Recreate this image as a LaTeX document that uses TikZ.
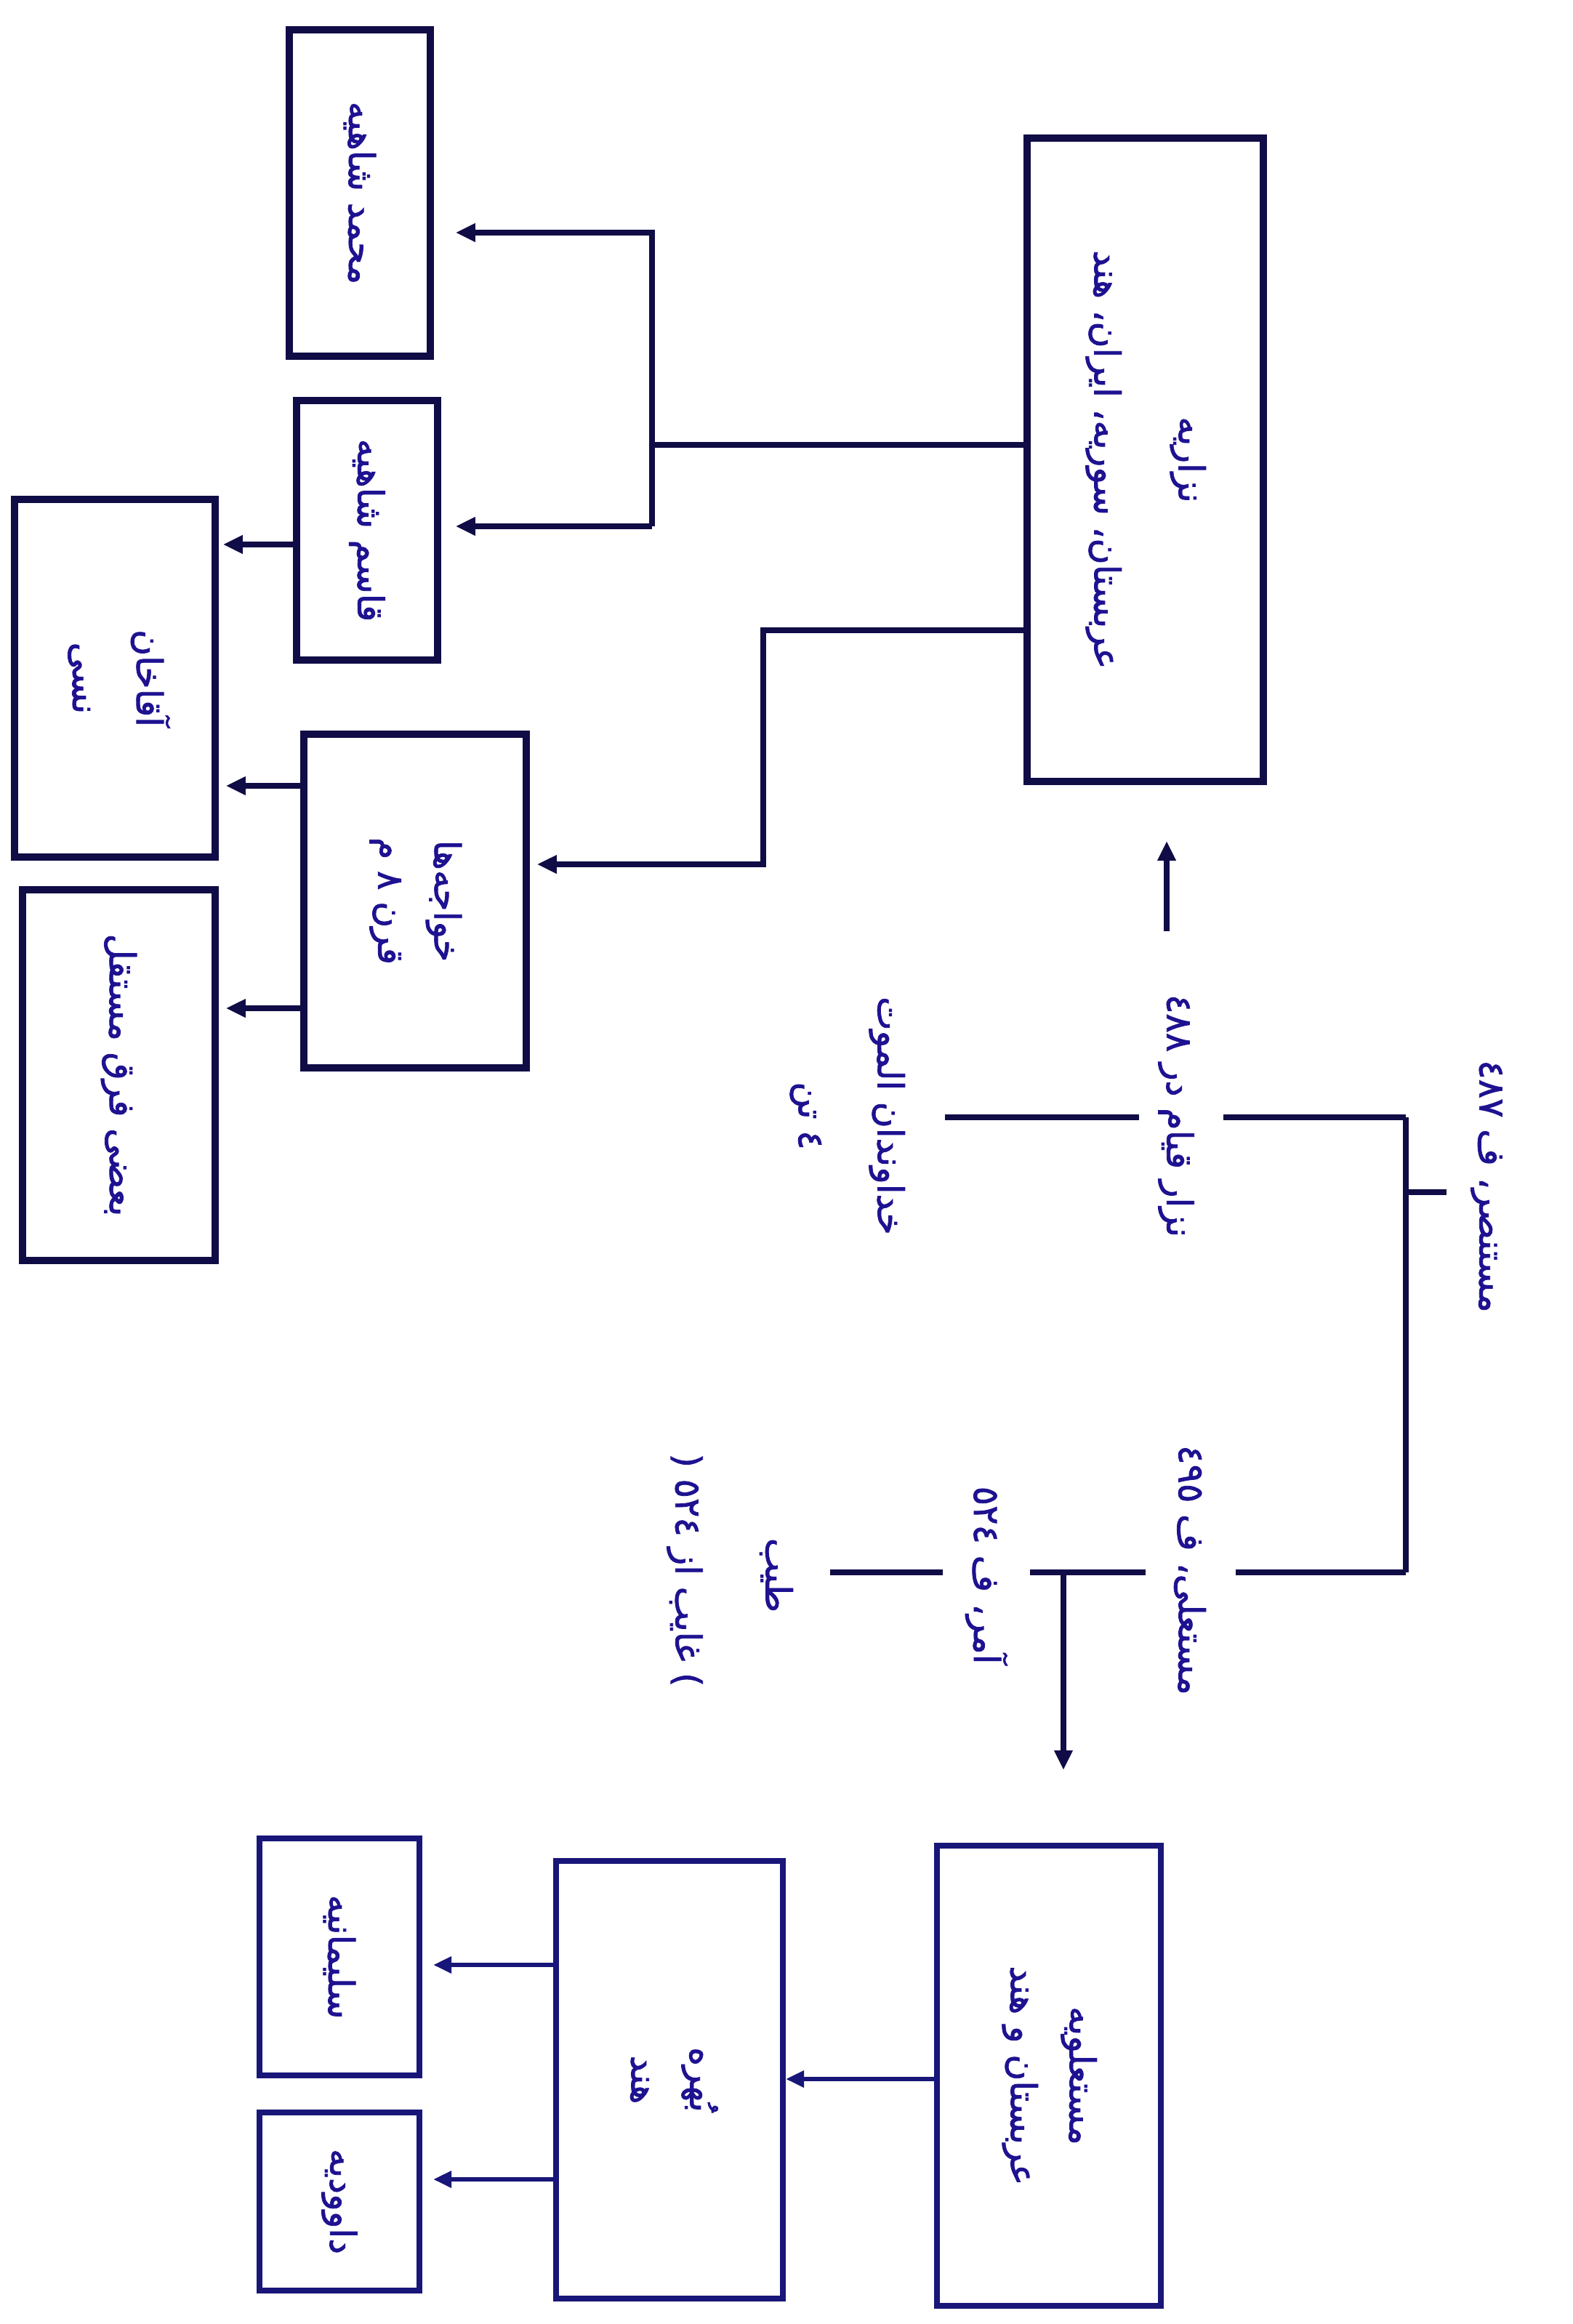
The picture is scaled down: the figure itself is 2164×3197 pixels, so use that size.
\documentclass[tikz,border=0pt]{standalone}
\usepackage{fontspec}
\usepackage{graphicx}
\usetikzlibrary{arrows.meta,fit}
\TeXXeTstate=1
\newfontfamily\arfont[Script=Arabic,FakeBold=1.6]{DejaVu Sans}
\definecolor{linecol}{RGB}{16,12,70}
\definecolor{linecolb}{RGB}{24,22,120}
\definecolor{txtcol}{RGB}{30,18,145}
\newcommand\RL[1]{\beginR#1\endR}
\newcommand\rone[1]{\rotatebox{-90}{\RL{#1}}}
\newcommand\rtwo[3]{\rotatebox{-90}{\begin{tabular}{@{}c@{}}\RL{#2}\\[#1]\RL{#3}\end{tabular}}}
\tikzset{
  artext/.style={text=txtcol, font=\arfont\fontsize{14pt}{17pt}\selectfont},
  topbox/.style={artext, draw=linecol, line width=2.8pt, inner sep=0pt},
  botbox/.style={artext, draw=linecolb, line width=2.3pt, inner sep=0pt},
  lbl/.style={artext, inner sep=0pt},
  conn/.style={draw=linecol, line width=2.2pt},
  connb/.style={draw=linecolb, line width=1.9pt},
  arr/.style={conn, -{Triangle[length=0.27cm,width=0.24cm]}},
  arrb/.style={connb, -{Triangle[length=0.25cm,width=0.22cm]}},
}
\begin{document}
\begin{tikzpicture}[x=0.01cm,y=-0.01cm]
\fill[white] (0,0) rectangle (2164,3197);
\useasboundingbox (0,0) rectangle (2164,3197);

% top group boxes
\node[topbox, fit={(398,41)(592,490)}] (mhd) {\rone{محمد شاهیه}};
\node[topbox, fit={(408,551)(602,908)}] (qsm) {\rone{قاسم شاهیه}};
\node[topbox, fit={(20,687)(296,1179)}] (aqa) {\rtwo{8pt}{آقاخان}{نسی}};
\node[topbox, fit={(418,1010)(724,1469)}] (khw) {\rtwo{5pt}{خواجه‌ها}{قرن ٨ م}};
\node[topbox, fit={(31,1224)(296,1734)}] (bad) {\rone{بعضی فرق مستقل}};
\node[topbox, fit={(1413,190)(1738,1075)}] (nzr) {\rtwo{16pt}{نزاریه}{عربستان، سوریه، ایران، هند}};

% top group connectors
\draw[conn] (nzr.west |- 0,612) -- (897,612);
\draw[arr, shorten >=0.3cm] (897,724) -- (897,320) -- (mhd.east |- 0,320);
\draw[arr, shorten >=0.2cm] (897,724) -- (qsm.east |- 0,724);
\draw[arr, shorten >=0.1cm] (nzr.west |- 0,867) -- (1050,867) -- (1050,1189) -- (khw.east |- 0,1189);
\draw[arr, shorten >=0.06cm] (qsm.west |- 0,749) -- (aqa.east |- 0,749);
\draw[arr, shorten >=0.1cm] (khw.west |- 0,1081) -- (aqa.east |- 0,1081);
\draw[arr, shorten >=0.1cm] (khw.west |- 0,1387) -- (bad.east |- 0,1387);

% middle labels
\node[lbl] (mstn) at (2045,1632) {\rone{مستنصر، ف ٤٨٧}};
\node[lbl] (nzq) at (1618,1535) {\rone{نزار قیام در ٤٨٨}};
\node[lbl] (khd) at (1165,1535) {\rtwo{14pt}{خداوندان الموت}{٤ تن}};
\node[lbl] (mst) at (1637,2160) {\rone{مستعلی، ف ٤٩٥}};
\node[lbl] (amr) at (1357,2167) {\rone{آمر، ف ٥٢٤}};
\node[lbl] (tyb) at (1068,2167) {\rone{طیب}};
\node[lbl] (ghb) at (942,2160) {\rone{) غایب از ٥٢٤ (}};

\coordinate (j0) at (1934,1640);
\coordinate (j0e) at (1990,1640);
\coordinate (jt) at (1934,1537);
\coordinate (jb) at (1934,2163);
\coordinate (tj) at (1463,2163);
\coordinate (ua) at (1605,1281);

\draw[conn] (j0) -- (j0e);
\draw[conn] (jt) -- (jb);
\draw[conn, shorten >=0.4cm] (jt) -- (nzq.east |- jt);
\draw[conn, shorten <=0.26cm, shorten >=0.5cm] (nzq.west |- jt) -- (khd.east |- jt);
\draw[arr, shorten >=0.77cm] (ua) -- (ua |- nzr.south);
\draw[conn, shorten >=0.4cm] (jb) -- (mst.east |- jb);
\draw[conn, shorten <=0.38cm, shorten >=0.3cm] (mst.west |- jb) -- (amr.east |- jb);
\draw[conn, shorten <=0.3cm, shorten >=0.5cm] (amr.west |- jb) -- (tyb.east |- jb);

% bottom group boxes
\node[botbox, fit={(1289,2539)(1597,3172)}] (mstb) {\rtwo{6pt}{مستعلویه}{عربستان و هند}};
\node[botbox, fit={(765,2560)(1077,3162)}] (bhr) {\rtwo{6pt}{بُهره}{هند}};
\node[botbox, fit={(357,2529)(577,2855)}] (slm) {\rone{سلیمانیه}};
\node[botbox, fit={(357,2906)(577,3151)}] (dwd) {\rone{داوودیه}};

\draw[arr, shorten >=1cm] (tj) -- (tj |- mstb.north);
\draw[arrb] (mstb.west |- 0,2860) -- (bhr.east |- 0,2860);
\draw[arrb, shorten >=0.15cm] (bhr.west |- 0,2703) -- (slm.east |- 0,2703);
\draw[arrb, shorten >=0.15cm] (bhr.west |- 0,2998) -- (dwd.east |- 0,2998);
\end{tikzpicture}
\end{document}
